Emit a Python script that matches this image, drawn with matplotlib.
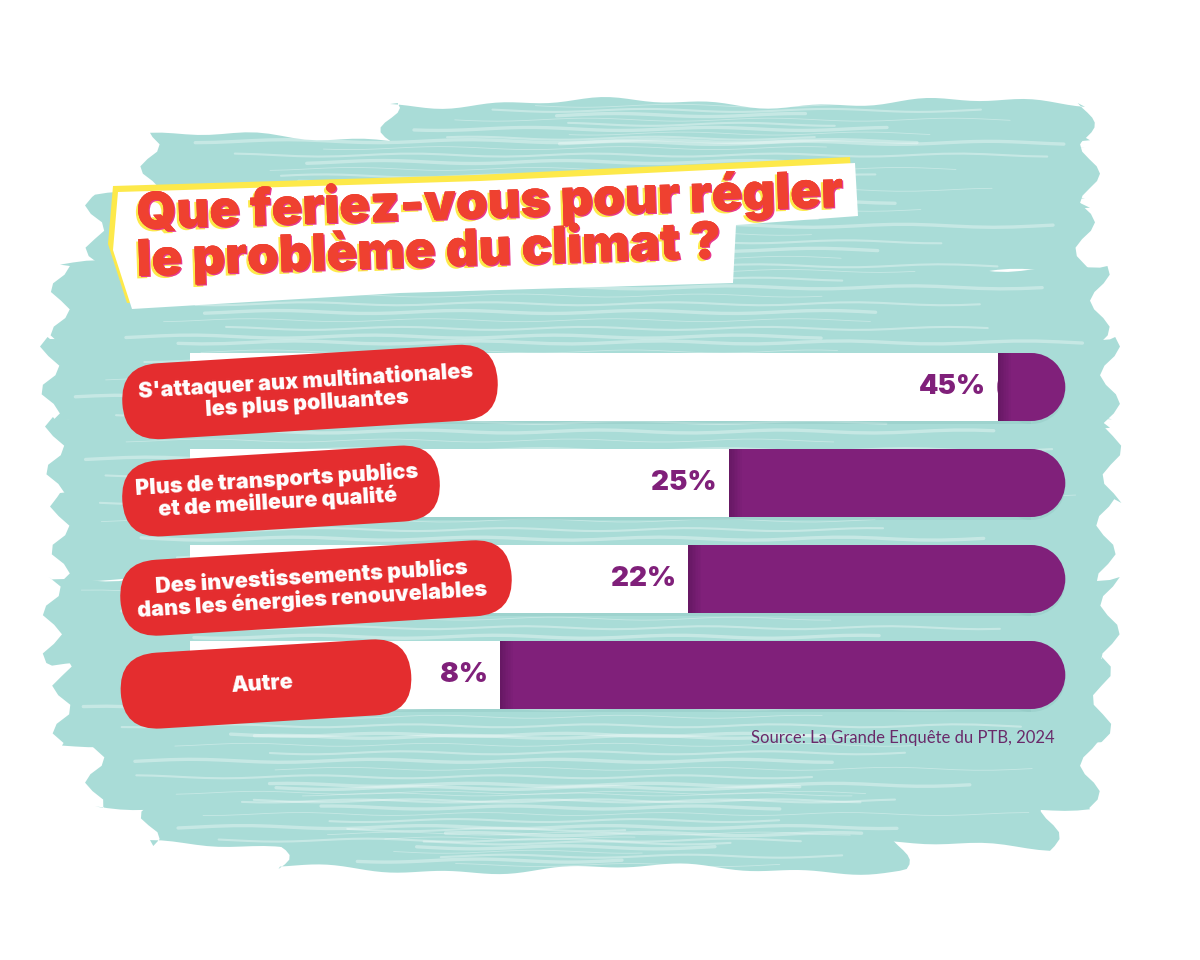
import numpy as np
import matplotlib
matplotlib.use("Agg")
import matplotlib.pyplot as plt
from matplotlib.patches import FancyBboxPatch, Ellipse, Polygon
from matplotlib.transforms import Affine2D
import matplotlib.patheffects as pe

W, H = 1200, 960

# --- data ---
categories = ["S'attaquer aux multinationales\nles plus polluantes",
              "Plus de transports publics\net de meilleure qualité",
              "Des investissements publics\ndans les énergies renouvelables",
              "Autre"]
values = [45, 25, 22, 8]
value_labels = ["45%", "25%", "22%", "8%"]
title_lines = ["Que feriez-vous pour régler", "le problème du climat ?"]
source = "Source: La Grande Enquête du PTB, 2024"

RED = "#e42d2f"
TITLE_RED = "#ef4130"
PINK = "#e8388e"
YELLOW = "#fde94a"
PURPLE = "#80207a"
DARK_PURPLE = "#4f1250"
TEAL = "#a9dcd7"
FONT = ["Inter", "DejaVu Sans"]

Y = lambda y: H - y  # image y (down) -> axes y (up)

fig = plt.figure(figsize=(W / 100, H / 100), dpi=100)
fig.patch.set_facecolor("white")

# background / decoration axes in pixel units
bg = fig.add_axes([0, 0, 1, 1], zorder=0)
bg.set_xlim(0, W); bg.set_ylim(0, H); bg.axis("off")

# teal brush strokes (decoration only)
bands = [  # x_left, x_right, y_center, height, phase
    (390, 1085, 125, 44, 0.3), (150, 1090, 170, 66, 1.1), (95, 1085, 235, 76, 2.0),
    (60, 1100, 305, 78, 2.7), (50, 1110, 380, 86, 0.8), (55, 1112, 460, 86, 1.9),
    (60, 1106, 540, 86, 3.1), (52, 1110, 620, 86, 0.5), (62, 1102, 700, 86, 2.4),
    (95, 1090, 770, 76, 1.4), (150, 1050, 815, 62, 2.9), (280, 900, 848, 42, 0.1),
]
for xl, xr, yc, h, ph in bands:
    xs = np.linspace(xl, xr, 80)
    top = yc - h / 2 + 4 * np.sin(xs / 57 + ph) + 2 * np.sin(xs / 17 + 2 * ph)
    bot = yc + h / 2 + 4 * np.sin(xs / 61 + 3 * ph) + 2 * np.sin(xs / 19 + ph)
    ys = np.linspace(yc - h / 2, yc + h / 2, 10)
    ends_r = [(xr + 10 * np.sin(y / 9 + ph), y) for y in ys]
    ends_l = [(xl - 10 * np.cos(y / 7 + ph), y) for y in ys[::-1]]
    pts = list(zip(xs, top)) + ends_r + list(zip(xs[::-1], bot[::-1])) + ends_l
    bg.add_patch(Polygon([(x, Y(y)) for x, y in pts], closed=True,
                         facecolor=TEAL, edgecolor="none", zorder=0.2))
    # dry-brush streaks
    for k in range(9):
        yy = yc - h / 2 + (k + 0.6) * h / 9.5
        xa = xl + 20 + 160 * abs(np.sin(ph * 3 + 1.7 * k))
        xb = xr - 20 - 260 * abs(np.cos(ph * 2 + 1.3 * k))
        sx = np.linspace(xa, xb, 40)
        sy = yy + 1.5 * np.sin(sx / 29 + k + ph)
        bg.plot(sx, Y(sy), color="white", lw=0.6 + 0.9 * ((k * 7 + int(ph * 10)) % 3),
                alpha=0.35, solid_capstyle="round", zorder=0.3)

# title box: yellow edge + white paper
box = [(118, 192), (480, 181), (855, 163), (858, 216), (736, 225), (733, 283),
       (400, 293), (132, 309), (113, 250)]
bg.add_patch(Polygon([(x - 5, Y(y - 6)) for x, y in box], closed=True,
                     facecolor=YELLOW, edgecolor="none", zorder=1))
bg.add_patch(Polygon([(x, Y(y)) for x, y in box], closed=True,
                     facecolor="white", edgecolor="none", zorder=1.1))

shadow = [pe.withSimplePatchShadow(offset=(-1.6, -1.8), shadow_rgbFace=YELLOW, alpha=1),
          pe.withSimplePatchShadow(offset=(1.0, -0.9), shadow_rgbFace=PINK, alpha=1),
          pe.Normal()]
for line, (tx, ty) in zip(title_lines, [(137, 229), (137, 276)]):
    bg.text(tx, Y(ty), line, fontsize=36.5, fontweight=900, family=FONT,
            color=TITLE_RED, ha="left", va="baseline", rotation=1.8,
            rotation_mode="anchor", path_effects=shadow, zorder=2)

# --- bars: x axis in percent ---
ax = fig.add_axes([0, 0, 1, 1], zorder=1)
ax.patch.set_alpha(0)
PX = 13.46                       # pixels per percent point
X0 = 392.3                       # pixel of 0 %
ax.set_xlim(-X0 / PX, (W - X0) / PX)
ax.set_ylim(0, H); ax.axis("off")

TRACK_END = 50
TRACK_START = -15
BAR_H = 68
rows = [Y(387 + 96 * i) for i in range(len(values))]
r = BAR_H / 2 / PX               # end-cap radius in percent units

for yc, v, lab in zip(rows, values, value_labels):
    # soft shadow under the track
    ax.barh(yc - 3, TRACK_END - r - TRACK_START, left=TRACK_START, height=BAR_H,
            color="#8cc4bf", alpha=0.35, lw=0, zorder=1)
    ax.add_patch(Ellipse((TRACK_END - r, yc - 3), 2 * r, BAR_H, color="#8cc4bf",
                         alpha=0.35, lw=0, zorder=1))
    ax.barh(yc, v - TRACK_START, left=TRACK_START, height=BAR_H, color="white",
            lw=0, zorder=2)
    ax.barh(yc, TRACK_END - r - v, left=v, height=BAR_H, color=PURPLE, zorder=2, lw=0)
    ax.add_patch(Ellipse((TRACK_END - r, yc), 2 * r, BAR_H, color=PURPLE, lw=0, zorder=2))
    for k in range(8):
        ax.barh(yc, 0.12, left=v + 0.12 * k, height=BAR_H, color=DARK_PURPLE,
                alpha=0.5 * (1 - k / 8), lw=0, zorder=3)
    ax.text(v - 12 / PX, yc, lab, fontsize=20, fontweight=900, family=FONT,
            color=PURPLE, ha="right", va="center", zorder=4)

# --- category pills on top ---
top = fig.add_axes([0, 0, 1, 1], zorder=2)
top.patch.set_alpha(0)
top.set_xlim(0, W); top.set_ylim(0, H); top.axis("off")

pills = [(310, 392, 376), (281, 491, 318), (316, 588, 392), (266, 684, 291)]
PILL_H, ANGLE = 76, 3.5
for (cx, cy, w), cat in zip(pills, categories):
    cyu = Y(cy)
    p = FancyBboxPatch((cx - w / 2, cyu - PILL_H / 2), w, PILL_H,
                       boxstyle=f"round,pad=0,rounding_size={PILL_H / 2}",
                       facecolor=RED, edgecolor="none")
    p.set_transform(Affine2D().rotate_deg_around(cx, cyu, ANGLE) + top.transData)
    top.add_patch(p)
    top.text(cx - 4, cyu, cat, fontsize=15.5, fontweight=900, family=FONT,
             color="white", ha="center", va="center", rotation=ANGLE,
             rotation_mode="anchor", linespacing=1.12, multialignment="center")

top.text(1055, Y(738), source, fontsize=12, family=["Lato", "DejaVu Sans"],
         color="#6a2a6a", ha="right", va="center")

fig.savefig("out.png", dpi=100)
